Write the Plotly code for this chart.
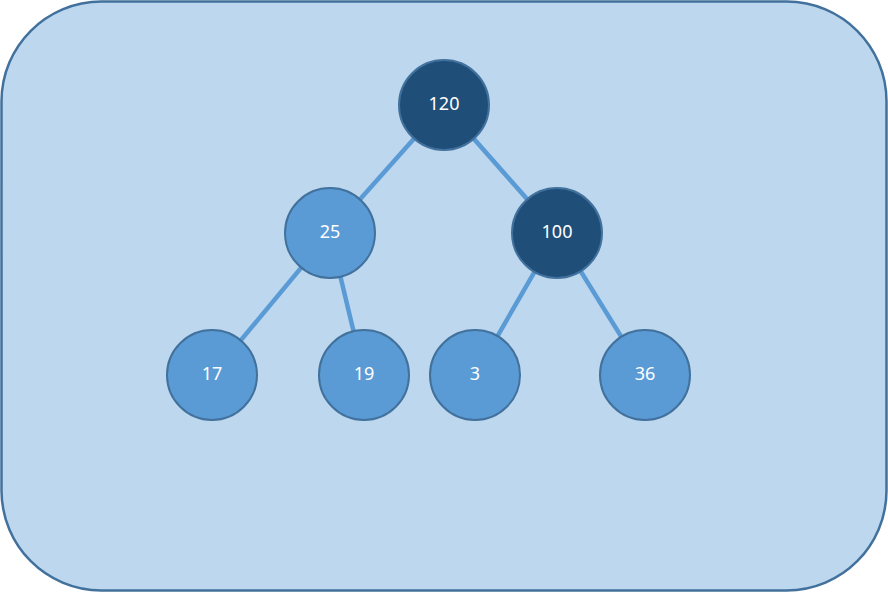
import plotly.graph_objects as go

# tree data
labels = ["120", "25", "100", "17", "19", "3", "36"]
parents = [None, 0, 0, 1, 1, 2, 2]
dark = [True, False, True, False, False, False, False]

# node positions (pixel grid of the 888x592 canvas)
node_x = [444, 330, 557, 212, 364, 475, 645]
node_y = [105, 233, 233, 375, 375, 375, 375]

W, H = 888, 592


def rounded_rect(x0, y0, x1, y1, r):
    k = 0.5523 * r
    return (
        f"M{x0 + r},{y0} L{x1 - r},{y0} "
        f"C{x1 - r + k},{y0} {x1},{y0 + r - k} {x1},{y0 + r} "
        f"L{x1},{y1 - r} "
        f"C{x1},{y1 - r + k} {x1 - r + k},{y1} {x1 - r},{y1} "
        f"L{x0 + r},{y1} "
        f"C{x0 + r - k},{y1} {x0},{y1 - r + k} {x0},{y1 - r} "
        f"L{x0},{y0 + r} "
        f"C{x0},{y0 + r - k} {x0 + r - k},{y0} {x0 + r},{y0} Z"
    )


fig = go.Figure()

# edges
for i, p in enumerate(parents):
    if p is None:
        continue
    fig.add_trace(go.Scatter(
        x=[node_x[p], node_x[i]], y=[node_y[p], node_y[i]],
        mode="lines", line=dict(color="#5B9BD5", width=4.5),
        hoverinfo="skip", showlegend=False,
    ))

# nodes
fig.add_trace(go.Scatter(
    x=node_x, y=node_y, mode="markers+text",
    text=labels, textposition="middle center",
    textfont=dict(family="Noto Sans", size=18, color="white"),
    marker=dict(
        size=90,
        color=["#1F4E79" if d else "#5B9BD5" for d in dark],
        line=dict(color="#41719C", width=2),
    ),
    hoverinfo="skip", showlegend=False,
))

fig.add_shape(
    type="path", path=rounded_rect(1.5, 1.5, 886.5, 590.5, 100),
    xref="x", yref="y", fillcolor="#BDD7EE",
    line=dict(color="#41719C", width=2.5), layer="below",
)

fig.update_layout(
    width=W, height=H,
    margin=dict(l=0, r=0, t=0, b=0),
    paper_bgcolor="white", plot_bgcolor="white",
    xaxis=dict(range=[0, W], visible=False, fixedrange=True),
    yaxis=dict(range=[H, 0], visible=False, fixedrange=True),
)

# drop the default page margin so the canvas sits at the window corner
fig.write_html("out.html", config={"displayModeBar": False},
               post_script="document.body.style.margin='0';")
